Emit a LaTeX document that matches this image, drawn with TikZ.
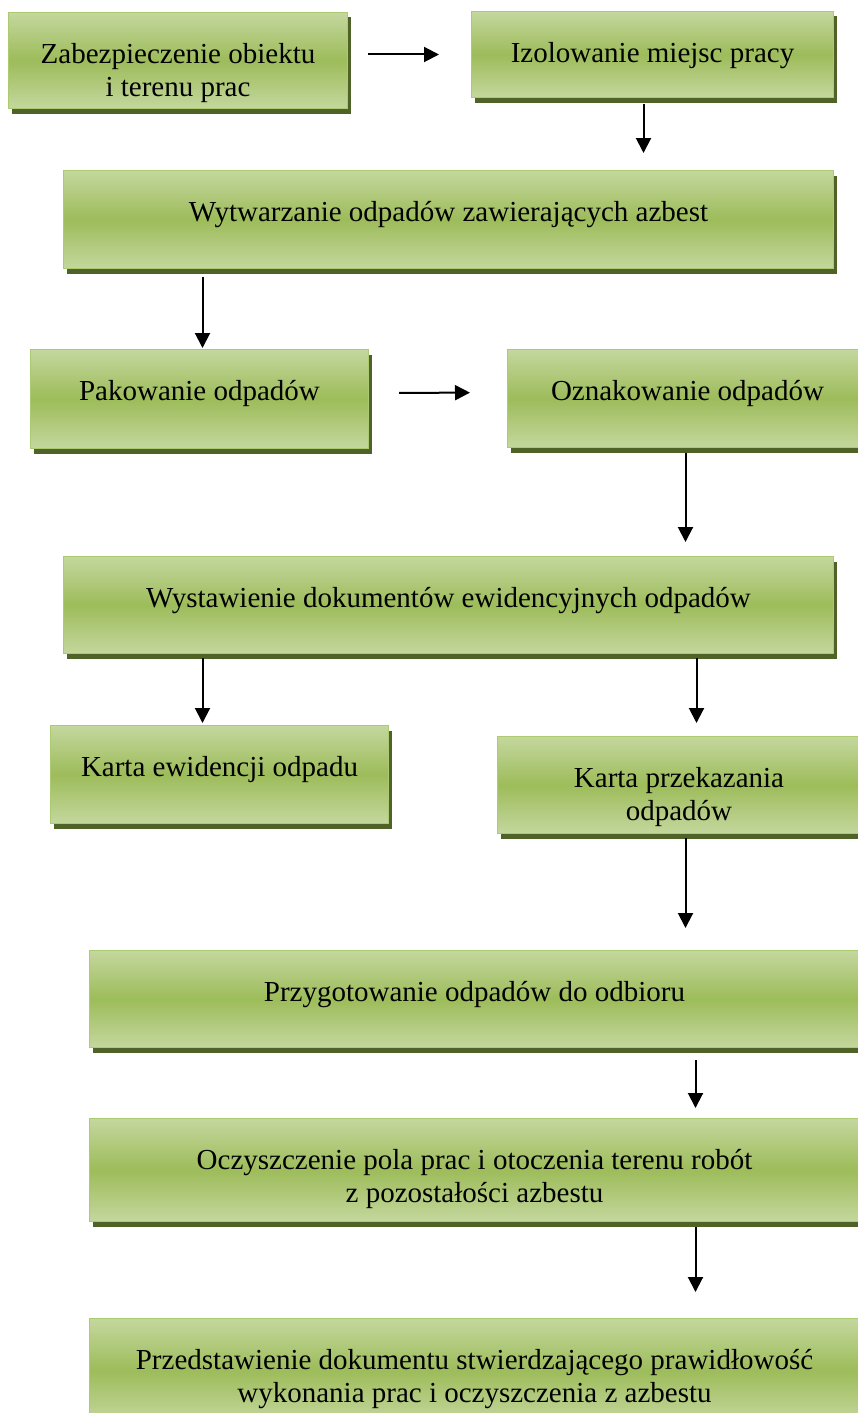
\documentclass[tikz,border=0pt]{standalone}
\usepackage{fontspec}
\setmainfont{Liberation Serif}
\usetikzlibrary{arrows.meta,shadows}
\definecolor{gLight}{RGB}{196,215,158}
\definecolor{gMid}{RGB}{157,188,90}
\definecolor{gEdge}{RGB}{172,202,112}
\definecolor{gShadow}{RGB}{79,98,40}
\newcommand\bxt[3]{\parbox[c][#2][t]{#1}{\centering\rule{0pt}{51pt}#3}}
\tikzset{
  stepbox/.style={anchor=north west, inner sep=0pt, draw=gEdge, line width=1pt,
    top color=gLight, bottom color=gLight, middle color=gMid,
    drop shadow={shadow xshift=3pt, shadow yshift=-5pt, fill=gShadow, opacity=1},
    font=\fontsize{29}{33}\selectfont},
  arr/.style={line width=2pt, -{Triangle[length=15pt,width=15pt]}}
}
\begin{document}
\begin{tikzpicture}[x=1pt,y=-1pt]
\useasboundingbox (0,0) rectangle (858,1413);
\node[stepbox] (b1) at (8,12) {\bxt{339pt}{96pt}{Zabezpieczenie obiektu\\i terenu prac}};
\node[stepbox] (b2) at (471,11) {\bxt{362pt}{86pt}{Izolowanie miejsc pracy}};
\node[stepbox] (b3) at (63,170) {\bxt{770pt}{98pt}{Wytwarzanie odpadów zawierających azbest}};
\node[stepbox] (b4) at (30,349) {\bxt{338pt}{99pt}{Pakowanie odpadów}};
\node[stepbox] (b5) at (507,349) {\bxt{360pt}{98pt}{Oznakowanie odpadów}};
\node[stepbox] (b6) at (63,556) {\bxt{770pt}{97pt}{Wystawienie dokumentów ewidencyjnych odpadów}};
\node[stepbox] (b7) at (50,725) {\bxt{338pt}{98pt}{Karta ewidencji odpadu}};
\node[stepbox] (b8) at (497,736) {\bxt{363pt}{97pt}{Karta przekazania\\odpadów}};
\node[stepbox] (b9) at (89,950) {\bxt{770pt}{97pt}{Przygotowanie odpadów do odbioru}};
\node[stepbox] (b10) at (89,1118) {\bxt{770pt}{103pt}{Oczyszczenie pola prac i otoczenia terenu robót\\z pozostałości azbestu}};
\node[stepbox] (b11) at (89,1318) {\bxt{770pt}{104pt}{Przedstawienie dokumentu stwierdzającego prawidłowość\\wykonania prac i oczyszczenia z azbestu}};

\draw[arr, shorten <=20pt, shorten >=32pt] (b1.east |- b2.west) -- (b2.west);
\draw[arr, shorten <=6pt, shorten >=17pt] ([xshift=-9pt]b2.south) -- ([xshift=-9pt]b2.south |- b3.north);
\draw[arr, shorten <=8pt, shorten >=1pt] ([xshift=3pt]b4.north |- b3.south) -- ([xshift=3pt]b4.north);
\draw[arr, shorten <=30pt, shorten >=37pt] ([yshift=6pt]b4.east) -- ([yshift=6pt]b5.west);
\draw[arr, shorten <=5pt, shorten >=14pt] ([xshift=-2pt]b5.south) -- ([xshift=-2pt]b5.south |- b6.north);
\draw[arr, shorten <=4pt, shorten >=2pt] ([xshift=-17pt]b7.north |- b6.south) -- ([xshift=-17pt]b7.north);
\draw[arr, shorten <=4pt, shorten >=13pt] ([xshift=17.5pt]b8.north |- b6.south) -- ([xshift=17.5pt]b8.north);
\draw[arr, shorten <=4pt, shorten >=22pt] ([xshift=6.5pt]b8.south) -- ([xshift=6.5pt]b8.south |- b9.north);
\draw[arr, shorten <=12pt, shorten >=10pt] ([xshift=221pt]b9.south) -- ([xshift=221pt]b9.south |- b10.north);
\draw[arr, shorten <=5pt, shorten >=26pt] ([xshift=221pt]b10.south) -- ([xshift=221pt]b10.south |- b11.north);
\end{tikzpicture}
\end{document}
